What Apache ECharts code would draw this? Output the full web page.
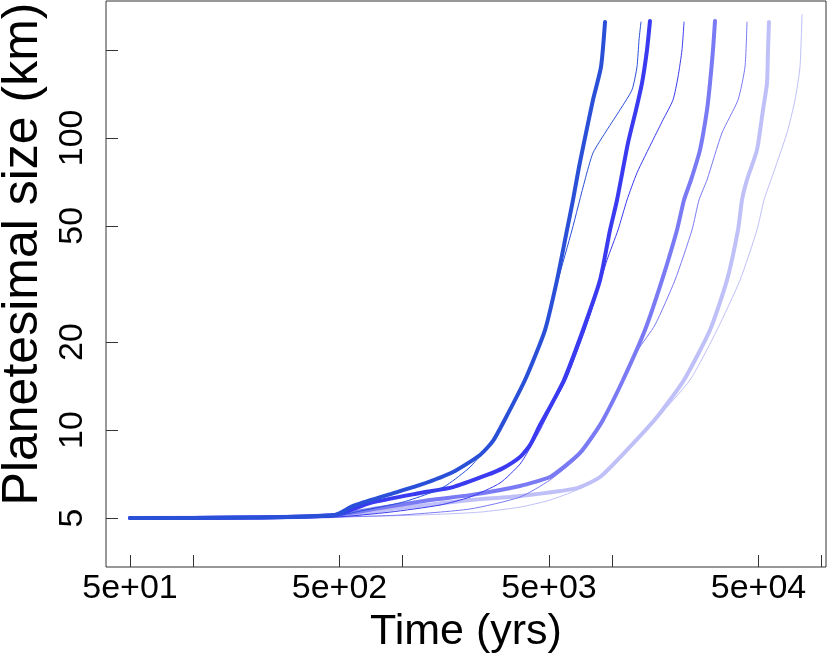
<!DOCTYPE html>
<html>
<head>
<meta charset="utf-8">
<title>Planetesimal size</title>
<script src="https://cdn.jsdelivr.net/npm/echarts/dist/echarts.min.js"></script>
<style>
html,body{margin:0;padding:0;background:#fff;}
#growth{width:830px;height:661px;}
</style>
</head>
<body>
<div id="growth"></div>
<script>
/* 曲线数据：时间 (yrs) / 尺寸 (km) */
var thick1Time = [50, 187, 476, 580, 843, 1211, 1741, 2343, 2702, 3016, 3840, 4785, 5460, 6095, 6510, 6955, 7510, 8110, 8855, 9255];
var thick1Size = [5, 5.02, 5.12, 5.50, 5.99, 6.49, 7.19, 8.22, 9.18, 10.57, 14.84, 22.0, 32.6, 48.4, 61.3, 79.5, 104, 135, 175, 249];

var thin1Time = [50, 187, 476, 626, 1005, 1352, 1630, 2098, 2672, 3257, 3840, 4785, 5520, 6440, 7425, 8110, 9460, 10910, 12450, 13150, 13445, 13740];
var thin1Size = [5, 5.02, 5.08, 5.28, 5.67, 6.09, 6.49, 7.47, 9.18, 11.72, 14.84, 22.0, 32.6, 48.4, 71.8, 88.8, 106.5, 124.7, 146, 175, 216, 249];

var thick2Time = [50, 187, 476, 699, 1211, 1741, 2530, 3016, 3636, 4059, 4529, 5055, 5895, 7265, 8760, 9780, 10560, 11915, 13010, 13895, 14680, 15170];
var thick2Size = [5, 5.02, 5.12, 5.63, 6.09, 6.38, 7.02, 7.41, 8.09, 8.89, 10.41, 11.99, 14.84, 22.0, 32.6, 48.4, 61.3, 96.1, 124.7, 154, 200, 251];

var thin2Time = [50, 187, 476, 871, 1509, 2098, 2918, 3636, 4059, 4529, 5110, 6025, 7425, 8570, 9460, 10675, 11785, 13150, 15680, 17500, 19540, 20645, 21570, 22050];
var thin2Size = [5, 5.02, 5.04, 5.24, 5.54, 5.90, 6.59, 7.65, 8.68, 10, 11.9, 14.84, 22.0, 30.2, 38.2, 48.4, 61.3, 75.9, 98.4, 115.2, 134.9, 161.7, 200, 249];

var thick3Time = [50, 187, 476, 781, 1352, 2098, 3636, 5055, 5960, 7030, 8020, 9050, 11280, 14360, 17310, 20415, 22050, 23815, 26290, 28395, 29345, 30325, 31000];
var thick3Size = [5, 5.02, 5.12, 5.41, 5.76, 5.99, 6.44, 6.91, 7.53, 8.35, 9.47, 10.83, 14.84, 22.0, 32.6, 48.4, 61.3, 71.8, 91.0, 124.7, 154, 200, 251];

var thin3Time = [50, 187, 476, 973, 2098, 3636, 5055, 7030, 9050, 11280, 13295, 16030, 19970, 24075, 26000, 28395, 33480, 39925, 43110, 44060];
var thin3Size = [5, 5.02, 5.04, 5.12, 5.37, 5.90, 6.75, 8.22, 10.74, 14.72, 18.8, 22.9, 32.6, 48.4, 61.3, 71.8, 104.0, 134.9, 175, 249];

var thick4Time = [50, 187, 476, 973, 2098, 3636, 6805, 8760, 11785, 16385, 22050, 29345, 35365, 39925, 41710, 44060, 49175, 52535, 54900, 55500, 56100];
var thick4Size = [5, 5.02, 5.08, 5.41, 5.76, 5.95, 6.33, 6.91, 8.55, 11.08, 14.84, 22.0, 32.6, 48.4, 61.3, 71.8, 91.0, 124.7, 154, 200, 249];

var thin4Time = [50, 187, 476, 1211, 2343, 3636, 5055, 6805, 8760, 11785, 16385, 23550, 31690, 40800, 49175, 53120, 57350, 68400, 74700, 78900, 80650];
var thin4Size = [5, 5.02, 5.04, 5.12, 5.24, 5.45, 5.76, 6.24, 6.85, 8.48, 11.0, 14.84, 22.0, 32.6, 48.4, 61.3, 71.8, 104.0, 134.9, 175, 264];

/* 刻度 */
var xTickValues = [50, 100, 500, 1000, 5000, 10000, 50000, 100000];
var xLabelValues = [50, 500, 5000, 50000];
var yTickValues = [5, 10, 20, 50, 100, 200];
var yLabelValues = [5, 10, 20, 50, 100];

var lineColors = ['#2a50d8', '#3a3af0', '#7a7af5', '#c0c0f9'];

var fontName = '"Liberation Sans", Arial, Helvetica, sans-serif';

function toPairs(t, s){
    var out = [];
    for(var i = 0; i < t.length; i++){
        out.push([t[i], s[i]]);
    }
    return out;
}

/* 5e+01 这样的标签 */
function sciLabel(v){
    var e = Math.floor(Math.log(v) / Math.LN10 + 1e-9);
    var m = Math.round(v / Math.pow(10, e));
    return m + 'e+' + (e < 10 ? '0' : '') + e;
}

function curve(name, t, s, color, width){
    return {
        name: name,
        type: 'line',
        data: toPairs(t, s),
        showSymbol: false,
        smooth: 0.2,
        lineStyle: {color: color, width: width, cap: 'round', join: 'round'},
        emphasis: {disabled: true}
    };
}

var growth = echarts.init(document.getElementById('growth'));
var growth_option = {
    animation: false,
    textStyle: {fontFamily: fontName},
    grid: {
        left: 106, right: 4, top: 1, bottom: 94,
        outerBoundsMode: 'none',
        containLabel: false,
        show: true, borderColor: '#333', borderWidth: 1, backgroundColor: '#fff'
    },
    xAxis: {
        type: 'log',
        logBase: 10,
        min: 38.4,
        max: 105000,
        name: 'Time (yrs)',
        nameLocation: 'middle',
        nameGap: 42,
        nameTextStyle: {fontSize: 43, color: '#000', fontFamily: fontName},
        axisLine: {show: false},
        splitLine: {show: false},
        axisTick: {show: true, inside: true, length: 12, customValues: xTickValues, lineStyle: {color: '#333'}},
        axisLabel: {
            customValues: xLabelValues,
            fontSize: 34, color: '#000', margin: 5, fontFamily: fontName,
            formatter: function(v){ return sciLabel(v); }
        }
    },
    yAxis: {
        type: 'log',
        logBase: 10,
        min: 3.4,
        max: 294,
        name: 'Planetesimal size (km)',
        nameLocation: 'middle',
        nameGap: 52,
        nameTextStyle: {fontSize: 50, color: '#000', fontFamily: fontName, padding: [0, 0, 0, 60]},
        axisLine: {show: false},
        splitLine: {show: false},
        axisTick: {show: true, inside: true, length: 12, customValues: yTickValues, lineStyle: {color: '#333'}},
        axisLabel: {
            customValues: yLabelValues,
            rotate: 90,
            align: 'center',
            verticalAlign: 'bottom',
            fontSize: 34, color: '#000', margin: 16, fontFamily: fontName
        }
    },
    series: [
        curve('thin4', thin4Time, thin4Size, lineColors[3], 1),
        curve('thick4', thick4Time, thick4Size, lineColors[3], 4),
        curve('thin3', thin3Time, thin3Size, lineColors[2], 1),
        curve('thick3', thick3Time, thick3Size, lineColors[2], 4),
        curve('thin2', thin2Time, thin2Size, lineColors[1], 1),
        curve('thick2', thick2Time, thick2Size, lineColors[1], 4),
        curve('thin1', thin1Time, thin1Size, lineColors[0], 1),
        curve('thick1', thick1Time, thick1Size, lineColors[0], 4)
    ]
};
growth.setOption(growth_option);
</script>
</body>
</html>
